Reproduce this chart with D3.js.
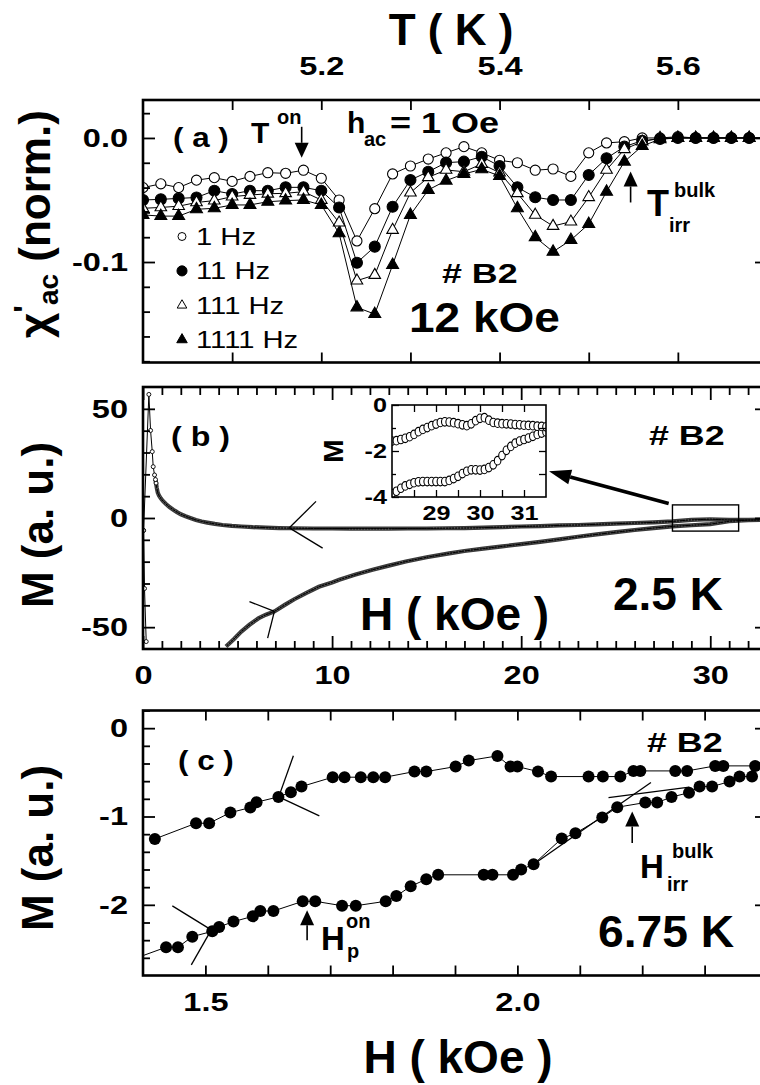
<!DOCTYPE html>
<html><head><meta charset="utf-8">
<script src="https://cdn.jsdelivr.net/npm/d3@7"></script>
<style>body{margin:0;background:#fff}svg{display:block}</style>
</head><body><svg id="c" width="760" height="1085"></svg>
<script>
// ================= DATA =================
// panel (a): chi'_ac (norm.) vs T (K)
const tempK = [5.00,5.02,5.04,5.06,5.08,5.10,5.12,5.14,5.16,5.18,5.20,5.22,5.24,5.26,5.28,5.30,5.32,5.34,5.36,5.38,5.40,5.42,5.44,5.46,5.48,5.50,5.52,5.54,5.56,5.58,5.60,5.62,5.64,5.66,5.68,5.70];
const chi1Hz = [-0.040,-0.037,-0.040,-0.034,-0.032,-0.035,-0.031,-0.028,-0.0285,-0.026,-0.0325,-0.050,-0.083,-0.057,-0.029,-0.0226,-0.017,-0.012,-0.007,-0.012,-0.018,-0.020,-0.026,-0.025,-0.031,-0.012,-0.004,-0.003,0.000,0.000,0.001,0.000,0.000,0.000,0.000,0.000];
const chi11Hz = [-0.050,-0.0495,-0.0487,-0.048,-0.0425,-0.0452,-0.0425,-0.0425,-0.0398,-0.0398,-0.0425,-0.056,-0.1006,-0.0876,-0.0554,-0.0339,-0.0272,-0.0199,-0.0191,-0.0151,-0.0226,-0.0398,-0.0478,-0.050,-0.050,-0.0298,-0.0164,-0.007,-0.0022,-0.0008,0.000,0.000,0.000,0.000,0.000,0.000];
const chi111Hz = [-0.0567,-0.056,-0.055,-0.052,-0.0505,-0.0473,-0.046,-0.045,-0.0446,-0.0433,-0.050,-0.0683,-0.115,-0.1105,-0.0742,-0.0441,-0.0317,-0.0258,-0.0272,-0.021,-0.028,-0.0446,-0.062,-0.071,-0.0675,-0.0478,-0.0258,-0.0091,-0.003,0.000,0.000,0.000,0.000,0.000,0.000,0.000];
const chi1111Hz = [-0.062,-0.063,-0.063,-0.0575,-0.0567,-0.054,-0.054,-0.0514,-0.0505,-0.050,-0.054,-0.0769,-0.1366,-0.142,-0.1024,-0.062,-0.0419,-0.0344,-0.029,-0.0253,-0.0306,-0.0567,-0.080,-0.0917,-0.0823,-0.0694,-0.0433,-0.0191,-0.0065,-0.001,0.000,0.000,0.000,0.000,0.000,0.000];
const legendA = ["1 Hz","11 Hz","111 Hz","1111 Hz"];

// panel (b): M (a.u.) vs H (kOe), 2.5 K
const hDown = [33,32,31,30,29,28,27,26,25,24,23,22,21,20,19,18,17,16,15,14,13,12,11,10,9,8,7.2,6.5,5.8,5.2,4.7,4.2,3.8,3.4,3.1,2.8,2.5,2.25,2.0,1.8,1.6,1.4,1.2,1.05,0.95,0.85,0.78,0.73,0.69,0.66,0.61,0.54,0.49,0.40,0.31,0.03];
const mDown = [-0.8,-0.9,-0.88,-0.58,-0.83,-1.57,-2.0,-2.3,-2.6,-2.9,-3.2,-3.4,-3.7,-3.9,-4.2,-4.4,-4.6,-4.7,-4.8,-4.8,-4.85,-4.85,-4.85,-4.8,-4.8,-4.7,-4.6,-4.4,-4.2,-3.9,-3.6,-3.2,-2.7,-2.1,-1.6,-0.9,0.0,0.8,1.7,2.7,3.8,5.0,6.5,7.8,8.9,10.2,11.6,13.7,16.0,17.6,19.7,23.5,30.4,40.1,56.6,-5.7];
const hUpStart = [0.03,0.08,0.17];
const mUpStart = [-5.7,-32.3,-56.6];
const hUp = [4.39,4.8,5.2,5.63,6.1,6.5,6.95,7.5,8.0,8.62,9.3,10.0,10.38,11.2,12.14,13,13.9,15,16.2,17,18,19,20,21,22,23,24,25,26,27,28,29,30,31,32,33];
const mUp = [-58.9,-55.5,-52,-48.9,-46,-44.3,-42.8,-39.8,-37.2,-34.4,-31.5,-29.5,-28.3,-26,-23.7,-21.8,-19.9,-18,-16.2,-15.1,-14,-13,-12,-10.9,-9.8,-8.6,-7.5,-6.5,-5.5,-4.6,-3.85,-3.33,-2.83,-1.5,-1.0,-0.8];
// inset of (b)
const hInset = [28.0,28.1,28.2,28.3,28.4,28.5,28.6,28.7,28.8,28.9,29.0,29.1,29.2,29.3,29.4,29.5,29.6,29.7,29.8,29.9,30.0,30.1,30.2,30.3,30.4,30.5,30.6,30.7,30.8,30.9,31.0,31.1,31.2,31.3,31.4,31.5];
const mInsetUpper = [-1.57,-1.55,-1.50,-1.45,-1.38,-1.28,-1.16,-1.06,-0.98,-0.90,-0.83,-0.76,-0.73,-0.74,-0.77,-0.81,-0.86,-0.90,-0.82,-0.68,-0.58,-0.55,-0.66,-0.76,-0.79,-0.81,-0.82,-0.83,-0.85,-0.86,-0.88,-0.89,-0.90,-0.92,-0.93,-0.95];
const mInsetLower = [-3.85,-3.75,-3.62,-3.52,-3.45,-3.38,-3.34,-3.33,-3.33,-3.33,-3.33,-3.33,-3.33,-3.28,-3.20,-3.10,-2.98,-2.88,-2.82,-2.82,-2.83,-2.80,-2.72,-2.60,-2.42,-2.20,-1.97,-1.80,-1.66,-1.57,-1.50,-1.44,-1.36,-1.28,-1.22,-1.17];

// panel (c): M (a.u.) vs H (kOe), 6.75 K
const hcUpper = [1.419,1.485,1.506,1.540,1.572,1.582,1.617,1.637,1.654,1.704,1.723,1.749,1.769,1.788,1.835,1.854,1.901,1.922,1.968,1.989,2.000,2.033,2.054,2.114,2.137,2.165,2.186,2.197,2.253,2.272,2.317,2.330,2.381];
const mcUpper = [-1.254,-1.076,-1.076,-0.956,-0.899,-0.838,-0.778,-0.725,-0.661,-0.555,-0.555,-0.555,-0.555,-0.555,-0.491,-0.491,-0.435,-0.367,-0.314,-0.435,-0.435,-0.491,-0.548,-0.548,-0.548,-0.548,-0.484,-0.484,-0.484,-0.484,-0.427,-0.427,-0.427];
const hcLower = [1.39,1.437,1.456,1.479,1.511,1.522,1.545,1.576,1.588,1.609,1.656,1.676,1.719,1.741,1.789,1.806,1.829,1.854,1.873,1.946,1.960,1.993,2.006,2.026,2.071,2.093,2.136,2.160,2.205,2.224,2.247,2.275,2.292,2.312,2.340,2.356,2.376];
const mcLower = [-2.60,-2.48,-2.48,-2.36,-2.30,-2.25,-2.19,-2.13,-2.07,-2.07,-1.96,-1.96,-2.01,-2.01,-1.96,-1.90,-1.79,-1.71,-1.66,-1.66,-1.66,-1.66,-1.60,-1.54,-1.25,-1.19,-1.01,-0.895,-0.842,-0.842,-0.78,-0.73,-0.661,-0.661,-0.605,-0.548,-0.548];

// tick values / labels
const ticksA_T = [5.1,5.2,5.3,5.4,5.5,5.6];
const labelsA_T = [5.2,5.4,5.6];
const ticksA_major = [0,-0.1];
const ticksA_minor = [0.02,-0.02,-0.04,-0.06,-0.08,-0.12,-0.14,-0.16,-0.18];
const ticksB_Hminor = [1,2,3,4,5,6,7,8,9,11,12,13,14,15,16,17,18,19,21,22,23,24,25,26,27,28,29,31,32];
const ticksB_Hmajor = [0,10,20,30];
const ticksB_major = [50,0,-50];
const ticksB_minor = [40,30,20,10,-10,-20,-30,-40];
const ticksInset_H = [28.5,29,29.5,30,30.5,31];
const labelsInset_H = [29,30,31];
const ticksInset_major = [0,-2,-4];
const ticksInset_minor = [-1,-3];
const ticksC_H = [1.5,1.6,1.7,1.8,1.9,2.0,2.1,2.2,2.3];
const labelsC_H = [1.5,2.0];
const ticksC_major = [0,-1,-2];
const ticksC_minor = [0.2,-0.2,-0.4,-0.6,-0.8,-1.2,-1.4,-1.6,-1.8,-2.2,-2.4,-2.6];

// ================= DRAW =================
const svg = d3.select("#c");
const FONT = '"Liberation Sans", Arial, Helvetica, sans-serif';
svg.append("rect").attr("width",760).attr("height",1085).attr("fill","#fff");
const L = 143, R = 767;

const xa = d3.scaleLinear().domain([5.0,5.7]).range([L,R]);
const ya = d3.scaleLinear().domain([-0.181,0.0306]).range([362.5,100]);
const xb = d3.scaleLinear().domain([0,33]).range([L,R]);
const yb = d3.scaleLinear().domain([-60,60]).range([649,387]);
const xi = d3.scaleLinear().domain([28,31.5]).range([392,546]);
const yi = d3.scaleLinear().domain([-4,0]).range([497,405]);
const xc = d3.scaleLinear().domain([1.4,2.4]).range([L,R]);
const yc = d3.scaleLinear().domain([-2.8,0.2]).range([975.5,710.5]);

const hyph = s => s.replace("\u2212","-");

function drawAxis(orient, scale, pos, vals, size, opt={}) {
  const gen = {left:d3.axisLeft, right:d3.axisRight, top:d3.axisTop, bottom:d3.axisBottom}[orient](scale)
    .tickValues(vals).tickSize(-size).tickPadding(opt.pad||0)
    .tickFormat(opt.fmt || (()=>""));
  const vert = orient==="left"||orient==="right";
  const g = svg.append("g").attr("transform", vert ? `translate(${pos},0)` : `translate(0,${pos})`).call(gen);
  g.select(".domain").remove();
  g.selectAll(".tick line").attr("stroke","#000").attr("stroke-width",opt.sw||1.8);
  const sx = opt.sx||1.25;
  g.selectAll(".tick text").attr("font-family",FONT).attr("font-size",opt.fs||26)
    .attr("font-weight","bold").attr("fill","#000")
    .each(function(){
      const t=d3.select(this);
      if (vert) t.attr("x", +t.attr("x")/sx);
      t.attr("transform",`scale(${sx},1)`);
    });
  return g;
}
function label(x, y, str, size, opt={}) {
  return svg.append("text")
    .attr("transform", `translate(${x},${y}) scale(${opt.sx||1},1)`)
    .attr("font-family",FONT).attr("font-size",size)
    .attr("font-weight",opt.weight||"bold").attr("text-anchor",opt.anchor||"start")
    .attr("fill","#000").text(str);
}
function vlabel(x, y, str, size) {
  return svg.append("text").attr("transform",`translate(${x},${y}) rotate(-90)`)
    .attr("font-family",FONT).attr("font-size",size).attr("font-weight","bold")
    .attr("text-anchor","middle").text(str);
}
function arrow(x1,y1,x2,y2,hl,hw,sw){
  const a=Math.atan2(y2-y1,x2-x1);
  const bx=x2-hl*Math.cos(a), by=y2-hl*Math.sin(a);
  svg.append("line").attr("x1",x1).attr("y1",y1).attr("x2",bx).attr("y2",by)
    .attr("stroke","#000").attr("stroke-width",sw);
  const px=-Math.sin(a)*hw/2, py=Math.cos(a)*hw/2;
  svg.append("path").attr("d",`M${x2},${y2}L${bx+px},${by+py}L${bx-px},${by-py}Z`).attr("fill","#000");
}
function clip(id, x0, y0, x1, y1){
  svg.append("clipPath").attr("id",id).append("rect").attr("x",x0).attr("y",y0).attr("width",x1-x0).attr("height",y1-y0);
  return svg.append("g").attr("clip-path",`url(#${id})`);
}
function seg(g, sx, sy, p, q){
  g.append("line").attr("x1",sx(p[0])).attr("y1",sy(p[1])).attr("x2",sx(q[0])).attr("y2",sy(q[1]))
    .attr("stroke","#000").attr("stroke-width",1.3);
}

// ---------- Panel (a) ----------
const ga = clip("ca", L, ya.range()[1], R, ya.range()[0]);
const symDefs = [
  {vals:chi1Hz, type:d3.symbolCircle, size:80, fill:"#fff", lsize:50},
  {vals:chi11Hz, type:d3.symbolCircle, size:95, fill:"#000", lsize:80},
  {vals:chi111Hz, type:d3.symbolTriangle, size:58, fill:"#fff", lsize:40},
  {vals:chi1111Hz, type:d3.symbolTriangle, size:62, fill:"#000", lsize:48}
];
symDefs.forEach(s=>{
  const pts = tempK.map((t,i)=>[t,s.vals[i]]);
  ga.append("path").datum(pts).attr("fill","none").attr("stroke","#000").attr("stroke-width",1)
    .attr("d", d3.line().x(d=>xa(d[0])).y(d=>ya(d[1])));
  ga.selectAll(null).data(pts).enter().append("path")
    .attr("transform",d=>`translate(${xa(d[0])},${ya(d[1])})`)
    .attr("d", d3.symbol().type(s.type).size(s.size)())
    .attr("fill",s.fill).attr("stroke","#000").attr("stroke-width",1.1);
});
svg.append("rect").attr("x",L).attr("y",100).attr("width",R-L).attr("height",262.5)
  .attr("fill","none").attr("stroke","#000").attr("stroke-width",2.6);
drawAxis("left", ya, L, ticksA_minor, 7);
drawAxis("left", ya, L, ticksA_major, 12, {pad:15, fmt:d=>d3.format(".1f")(d).replace("\u2212","-")});
drawAxis("right", ya, R, ticksA_major, 12);
drawAxis("top", xa, 100, ticksA_T, 10, {pad:25, fmt:d=>labelsA_T.some(v=>Math.abs(v-d)<1e-9)?d3.format(".1f")(d):""});
drawAxis("bottom", xa, 362.5, ticksA_T, 10);
label(451, 45, "T ( K )", 44, {anchor:"middle"});
// y label
const yl = svg.append("text").attr("transform","translate(50,338) rotate(-90)")
  .attr("font-family",FONT).attr("font-weight","bold").attr("font-size",44);
yl.append("tspan").text("\u03c7");
yl.append("tspan").attr("font-size",32).attr("dy",-14).text("'");
yl.append("tspan").attr("font-size",28).attr("dy",22).text("ac");
yl.append("tspan").attr("dy",-8).text(" (norm.)");
// legend
legendA.forEach((name,i)=>{
  const y = 236.5 + i*34.4;
  svg.append("path").attr("transform",`translate(182,${y})`)
    .attr("d", d3.symbol().type(symDefs[i].type).size(symDefs[i].lsize)())
    .attr("fill",symDefs[i].fill).attr("stroke","#000").attr("stroke-width",1);
  label(196, y+8.5, name, 23, {weight:"normal", sx:1.27});
});
label(173, 147, "( a )", 28, {sx:1.12});
label(251, 143, "T", 30);
label(277, 124, "on", 20);
arrow(xa(5.178), ya(0.009), xa(5.178), ya(-0.016), 15, 14, 1.6);
label(347, 133, "h", 30);
label(364, 146, "ac", 20);
label(390, 133, "= 1 Oe", 30, {sx:1.2});
label(442, 283, "# B2", 28, {sx:1.28});
label(409, 332, "12 kOe", 43, {sx:1.07});
arrow(xa(5.547), ya(-0.052), xa(5.547), ya(-0.027), 15, 14, 1.6);
label(647, 216, "T", 36);
label(674, 197, "bulk", 20);
label(669, 232, "irr", 20);

// ---------- Panel (b) ----------
const gb = clip("cb", L, 387, R, 649);
const down = hDown.map((h,i)=>[h,mDown[i]]);
const upS = hUpStart.map((h,i)=>[h,mUpStart[i]]);
const up = hUp.map((h,i)=>[h,mUp[i]]);
const lineB = d3.line().x(d=>xb(d[0])).y(d=>yb(d[1]));
[down.slice(0,-6), up].forEach(p=>{
  gb.append("path").datum(p).attr("fill","none").attr("stroke","#3a3a3a").attr("stroke-width",4.2).attr("d",lineB);
  gb.append("path").datum(p).attr("fill","none").attr("stroke","#c8c8c8").attr("stroke-width",1.1)
    .attr("stroke-dasharray","1.2 1.8").attr("d",lineB);
});
[down, upS, up].forEach(p=>{
  gb.append("path").datum(p).attr("fill","none").attr("stroke","#000").attr("stroke-width",1).attr("d",lineB);
});
[down.slice(-8), upS].forEach(p=>{
  gb.selectAll(null).data(p).enter().append("circle")
    .attr("cx",d=>xb(d[0])).attr("cy",d=>yb(d[1])).attr("r",2)
    .attr("fill","#fff").attr("stroke","#000").attr("stroke-width",0.9);
});
// tangent marks
seg(gb, xb, yb, [7.74,-4.5], [9.15,7.6]);
seg(gb, xb, yb, [7.74,-4.5], [9.5,-13.8]);
seg(gb, xb, yb, [6.95,-42.8], [5.63,-38.3]);
seg(gb, xb, yb, [6.95,-42.8], [6.59,-55]);
// box
svg.append("rect").attr("x",xb(28)).attr("y",yb(6)).attr("width",xb(31.5)-xb(28)).attr("height",yb(-6)-yb(6))
  .attr("fill","none").attr("stroke","#000").attr("stroke-width",1.4);
arrow(xb(27.8), yb(6.6), xb(21.47), yb(21.4), 22, 15, 3.6);
svg.append("rect").attr("x",L).attr("y",387).attr("width",R-L).attr("height",262)
  .attr("fill","none").attr("stroke","#000").attr("stroke-width",2.6);
drawAxis("left", yb, L, ticksB_minor, 7);
drawAxis("left", yb, L, ticksB_major, 12, {pad:15, fmt:d=>hyph(String(d))});
drawAxis("right", yb, R, ticksB_major, 12);
drawAxis("top", xb, 387, ticksB_Hminor, 8);
drawAxis("top", xb, 387, ticksB_Hmajor, 13);
drawAxis("bottom", xb, 649, ticksB_Hminor, 8);
drawAxis("bottom", xb, 649, ticksB_Hmajor, 13, {pad:17, fmt:d=>String(d)});
vlabel(53, 525, "M (a. u.)", 44);
label(171, 446, "( b )", 28, {sx:1.15});
label(649, 445, "# B2", 28, {sx:1.28});
label(360, 630, "H ( kOe )", 46);
label(613, 610, "2.5 K", 46);
// inset
svg.append("rect").attr("x",392).attr("y",405).attr("width",154).attr("height",92).attr("fill","#fff");
const gi = clip("ci", 392, 405, 546, 497);
[mInsetLower, mInsetUpper].forEach(arr=>{
  gi.selectAll(null).data(hInset.map((h,i)=>[h,arr[i]])).enter().append("ellipse")
    .attr("cx",d=>xi(d[0])).attr("cy",d=>yi(d[1])).attr("rx",3.3).attr("ry",4.3)
    .attr("fill","#fff").attr("stroke","#000").attr("stroke-width",1.1);
});
svg.append("rect").attr("x",392).attr("y",405).attr("width",154).attr("height",92)
  .attr("fill","none").attr("stroke","#000").attr("stroke-width",1.6);
drawAxis("left", yi, 392, ticksInset_minor, 4, {sw:1.3});
drawAxis("left", yi, 392, ticksInset_major, 7, {sw:1.3, pad:5, fs:21, sx:1.2, fmt:d=>hyph(String(d))});
drawAxis("right", yi, 546, [-1,-2,-3], 7, {sw:1.3});
drawAxis("bottom", xi, 497, ticksInset_H, 7, {sw:1.3, pad:8, fs:21, sx:1.2, fmt:d=>labelsInset_H.includes(d)?String(d):""});
drawAxis("top", xi, 405, ticksInset_H, 7, {sw:1.3});
vlabel(343, 451, "M", 28);

// ---------- Panel (c) ----------
const gc = clip("cc", L, 710.5, R, 975.5);
[[hcUpper,mcUpper],[hcLower,mcLower]].forEach(([hs,ms])=>{
  const p = hs.map((h,i)=>[h,ms[i]]);
  gc.append("path").datum(p).attr("fill","none").attr("stroke","#000").attr("stroke-width",1)
    .attr("d", d3.line().x(d=>xc(d[0])).y(d=>yc(d[1])));
  gc.selectAll(null).data(p).enter().append("circle")
    .attr("cx",d=>xc(d[0])).attr("cy",d=>yc(d[1])).attr("r",6).attr("fill","#000");
});
seg(gc, xc, yc, [1.6175,-0.778], [1.641,-0.313]);
seg(gc, xc, yc, [1.6175,-0.778], [1.6826,-0.993]);
seg(gc, xc, yc, [1.5094,-2.284], [1.447,-2.012]);
seg(gc, xc, yc, [1.5094,-2.284], [1.4774,-2.68]);
seg(gc, xc, yc, [2.026,-1.54], [2.214,-0.616]);
seg(gc, xc, yc, [2.146,-0.786], [2.2755,-0.668]);
svg.append("rect").attr("x",L).attr("y",710.5).attr("width",R-L).attr("height",265)
  .attr("fill","none").attr("stroke","#000").attr("stroke-width",2.6);
drawAxis("left", yc, L, ticksC_minor, 7);
drawAxis("left", yc, L, ticksC_major, 12, {pad:15, fmt:d=>hyph(String(d))});
drawAxis("right", yc, R, ticksC_major, 12);
drawAxis("top", xc, 710.5, ticksC_H, 10);
drawAxis("bottom", xc, 975.5, ticksC_H, 10, {pad:17.5, fmt:d=>labelsC_H.some(v=>Math.abs(v-d)<1e-9)?d3.format(".1f")(d):""});
vlabel(53, 848, "M (a. u.)", 44);
label(178, 770, "( c )", 28, {sx:1.12});
label(647, 752, "# B2", 28, {sx:1.28});
label(598, 947, "6.75 K", 44, {sx:1.05});
arrow(xc(1.663), yc(-2.40), xc(1.663), yc(-2.06), 15, 14, 1.6);
label(321, 950, "H", 33);
label(346, 928, "on", 20);
label(347, 958, "p", 20);
arrow(xc(2.184), yc(-1.30), xc(2.184), yc(-0.944), 15, 14, 1.6);
label(640, 878, "H", 33);
label(672, 858, "bulk", 20);
label(667, 891, "irr", 20);
label(458, 1073, "H ( kOe )", 46, {anchor:"middle"});
</script></body></html>
